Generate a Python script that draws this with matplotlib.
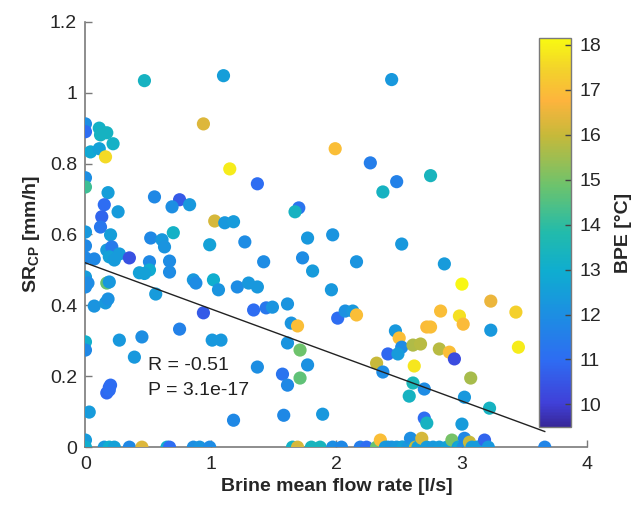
import numpy as np
import matplotlib
matplotlib.use("Agg")
import matplotlib.pyplot as plt
from matplotlib.colors import LinearSegmentedColormap
from matplotlib.ticker import FormatStrFormatter

plt.rcParams['font.family'] = ['Liberation Sans', 'DejaVu Sans']
plt.rcParams['mathtext.default'] = 'regular'

# brine mean flow rate [l/s], SR_CP [mm/h], BPE [degC]
flow = [0.47, 1.10, 2.44, 0.00, 0.00, 0.11, 0.12, 0.17, 0.22, 0.04,
        0.11, 0.16, 0.94, 1.99, 1.15, 2.27, 0.00, 0.00, 0.18, 1.37,
        2.48, 2.75, 2.37, 0.55, 0.15, 0.75, 0.69, 0.83, 0.26, 0.13,
        0.12, 1.70, 1.67, 1.03, 1.11, 1.18, 0.00, 0.20, 0.70, 0.52,
        0.61, 0.63, 1.27, 1.77, 1.97, 0.99, 2.52, 0.00, 0.00, 0.07,
        0.17, 0.21, 0.19, 0.23, 0.27, 0.35, 0.51, 0.67, 0.43, 0.51,
        0.47, 0.67, 0.86, 0.88, 1.02, 1.06, 0.00, 0.00, 0.02, 0.17,
        0.19, 0.07, 0.16, 0.18, 0.56, 1.21, 1.30, 1.37, 1.42, 1.73,
        1.81, 1.96, 2.16, 2.86, 0.94, 0.75, 0.27, 0.45, 0.39, 0.00,
        0.00, 0.19, 0.20, 0.17, 0.19, 0.03, 0.00, 1.01, 1.08, 1.34,
        1.44, 1.49, 1.61, 1.64, 1.69, 1.61, 1.71, 1.37, 1.77, 1.57,
        1.61, 1.71, 1.18, 1.58, 1.89, 2.01, 2.07, 2.13, 2.16, 2.32,
        2.41, 2.37, 2.47, 3.00, 3.23, 3.43, 2.83, 2.98, 3.01, 2.72,
        2.75, 3.23, 3.45, 2.50, 2.52, 2.49, 2.61, 2.67, 2.82, 2.90,
        2.94, 2.62, 3.07, 2.61, 2.70, 2.58, 3.02, 3.22, 2.70, 2.72,
        3.00, 3.66,
        0.00, 0.15, 0.19, 0.23, 0.35, 0.45, 0.65, 0.67, 0.86, 0.91,
        0.99, 1.65, 1.69, 1.80, 1.87, 1.97, 2.04, 2.19, 2.24, 2.32,
        2.35, 2.39, 2.41, 2.44, 2.48, 2.52, 2.53, 2.57, 2.59, 2.61,
        2.63, 2.65, 2.68, 2.72, 2.77, 2.82, 2.88, 2.92, 2.97, 2.98,
        3.01, 3.02, 3.06, 3.08, 3.12, 3.13, 3.18, 3.21]
sr = [1.034, 1.048, 1.037, 0.912, 0.890, 0.900, 0.881, 0.887, 0.856, 0.833,
      0.842, 0.819, 0.912, 0.842, 0.785, 0.802, 0.760, 0.734, 0.718, 0.743,
      0.749, 0.766, 0.720, 0.706, 0.684, 0.698, 0.678, 0.684, 0.664, 0.650,
      0.621, 0.675, 0.664, 0.638, 0.633, 0.636, 0.607, 0.599, 0.605, 0.590,
      0.585, 0.565, 0.579, 0.590, 0.599, 0.571, 0.573, 0.568, 0.534, 0.531,
      0.556, 0.565, 0.537, 0.528, 0.545, 0.534, 0.523, 0.525, 0.492, 0.500,
      0.490, 0.494, 0.472, 0.463, 0.472, 0.444, 0.480, 0.452, 0.463, 0.463,
      0.466, 0.398, 0.407, 0.418, 0.432, 0.452, 0.463, 0.452, 0.523, 0.534,
      0.497, 0.444, 0.523, 0.517, 0.379, 0.333, 0.302, 0.311, 0.254, 0.297,
      0.274, 0.169, 0.175, 0.153, 0.161, 0.099, 0.020, 0.302, 0.302, 0.387,
      0.393, 0.395, 0.404, 0.350, 0.342, 0.294, 0.274, 0.226, 0.232, 0.206,
      0.175, 0.195, 0.076, 0.090, 0.093, 0.364, 0.384, 0.384, 0.373, 0.237,
      0.263, 0.212, 0.328, 0.460, 0.412, 0.381, 0.384, 0.370, 0.347, 0.339,
      0.339, 0.330, 0.282, 0.308, 0.282, 0.263, 0.288, 0.291, 0.277, 0.268,
      0.249, 0.229, 0.195, 0.181, 0.164, 0.144, 0.141, 0.110, 0.082, 0.068,
      0.065, 0.000,
      0.000, 0.000, 0.000, 0.000, 0.000, 0.000, 0.000, 0.000, 0.000, 0.000,
      0.000, 0.000, 0.000, 0.000, 0.000, 0.000, 0.000, 0.000, 0.000, 0.000,
      0.020, 0.000, 0.000, 0.000, 0.000, 0.000, 0.000, 0.000, 0.025, 0.000,
      0.000, 0.000, 0.025, 0.000, 0.000, 0.000, 0.000, 0.020, 0.000, 0.000,
      0.000, 0.025, 0.014, 0.000, 0.000, 0.000, 0.020, 0.000]
bpe = [13.3, 12.5, 12.3, 12.0, 11.0, 13.2, 13.3, 13.3, 13.2, 12.8,
       12.6, 17.6, 16.3, 17.0, 17.9, 11.5, 12.0, 14.2, 12.5, 11.0,
       11.6, 13.4, 13.3, 11.8, 11.0, 10.6, 12.0, 12.3, 12.4, 10.8,
       11.3, 11.2, 13.3, 16.2, 12.3, 12.4, 12.3, 12.5, 13.2, 11.8,
       12.3, 12.2, 11.9, 12.3, 12.2, 12.6, 12.3, 11.8, 11.8, 11.8,
       12.4, 11.4, 12.6, 12.4, 12.4, 10.4, 11.8, 11.9, 12.6, 12.9,
       12.6, 11.9, 12.3, 11.9, 13.0, 12.2, 12.4, 11.9, 11.9, 14.8,
       12.3, 12.2, 12.3, 12.1, 12.4, 11.9, 12.3, 12.3, 11.9, 11.9,
       12.4, 12.3, 12.2, 12.4, 10.6, 11.6, 12.3, 12.0, 12.3, 13.1,
       11.8, 10.9, 11.0, 10.9, 11.0, 12.4, 12.4, 12.3, 12.3, 11.0,
       11.3, 12.2, 12.2, 12.2, 17.0, 12.2, 14.9, 12.0, 12.1, 11.2,
       11.8, 14.7, 11.8, 11.8, 12.3, 11.0, 12.1, 12.3, 17.0, 16.0,
       10.9, 11.9, 12.3, 18.1, 16.5, 17.4, 17.0, 17.7, 16.9, 16.9,
       17.0, 12.3, 17.9, 17.0, 11.9, 12.4, 15.7, 15.8, 15.8, 17.0,
       10.3, 17.8, 15.6, 13.5, 11.9, 13.3, 12.3, 13.3, 11.0, 13.3,
       12.4, 11.7,
       13.0, 12.3, 13.0, 12.6, 11.8, 16.3, 13.0, 11.0, 12.0, 12.2,
       11.9, 13.2, 16.2, 13.4, 13.4, 12.0, 11.8, 11.5, 11.0, 14.8,
       17.0, 12.3, 12.3, 12.2, 12.3, 12.3, 12.6, 12.3, 12.0, 12.3,
       16.0, 12.5, 16.2, 12.4, 12.3, 12.4, 12.6, 15.0, 12.3, 12.8,
       12.0, 11.8, 16.0, 12.4, 12.5, 12.4, 10.8, 12.3]

# linear fit shown in the figure
fit_intercept = 0.52
fit_slope = -0.13
stats_text = "R = -0.51\nP = 3.1e-17"

parula_like = LinearSegmentedColormap.from_list("parula_like", [
    (0.00, "#38289a"), (0.06, "#4040d8"), (0.17, "#2e6cf2"),
    (0.29, "#1c8fe2"), (0.40, "#0fadd0"), (0.50, "#22bbab"),
    (0.62, "#6cc36d"), (0.75, "#c6b93a"), (0.84, "#fdb43d"),
    (0.92, "#f3d22b"), (1.00, "#f8f912")])

fig = plt.figure(figsize=(6.33, 5.07), dpi=100)
ax = fig.add_axes([0.135, 0.118, 0.793, 0.839])

sc = ax.scatter(flow, sr, c=bpe, cmap=parula_like, vmin=9.5, vmax=18.15,
                s=90, edgecolors='none', zorder=3)

xf = np.array([min(flow), max(flow)])
ax.plot(xf, fit_intercept + fit_slope * xf, color='#222222', lw=1.0, zorder=4)

ax.text(0.5, 0.196, stats_text, fontsize=14, color='#222222',
        va='center', ha='left', linespacing=1.6, zorder=5)

ax.set_xlim(0, 4)
ax.set_ylim(0, 1.2)
ax.set_xticks([0, 1, 2, 3, 4])
ax.set_yticks([0, 0.2, 0.4, 0.6, 0.8, 1.0, 1.2])
ax.yaxis.set_major_formatter(FormatStrFormatter('%g'))
for side in ['top', 'right']:
    ax.spines[side].set_visible(False)
for side in ['left', 'bottom']:
    ax.spines[side].set_color('#7a7a7a')
    ax.spines[side].set_linewidth(1.2)
ax.tick_params(direction='in', length=5, width=1, color='#7a7a7a',
               labelsize=14, labelcolor='#262626', pad=6)
ax.set_xlabel("Brine mean flow rate [l/s]", fontsize=14, fontweight='bold',
              color='#262626', labelpad=4)
ax.set_ylabel("SR$_{CP}$ [mm/h]", fontsize=14, fontweight='bold',
              color='#262626', labelpad=6)

cax = fig.add_axes([0.851, 0.158, 0.0506, 0.767])
cb = fig.colorbar(sc, cax=cax)
cb.set_ticks(range(10, 19))
cb.outline.set_edgecolor('#7a7a7a')
cb.outline.set_linewidth(1.0)
cax.tick_params(direction='in', length=4, width=1, color='#444444',
                labelsize=14, labelcolor='#262626', pad=6)
cb.set_label("BPE [°C]", fontsize=14, fontweight='bold', color='#262626',
             labelpad=10)

fig.savefig("out.png", dpi=100)
